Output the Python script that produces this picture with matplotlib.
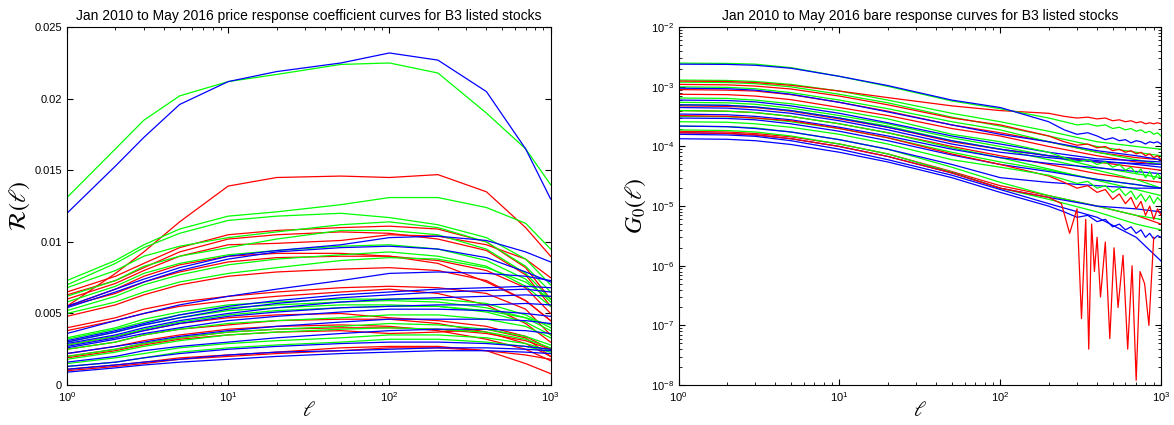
import numpy as np
import matplotlib.pyplot as plt
from matplotlib.ticker import FormatStrFormatter

plt.rc("font", family=["Liberation Sans", "DejaVu Sans"], size=8)
plt.rc("mathtext", fontset="stix")

lags = [1, 2, 3, 5, 10, 20, 50, 100, 200, 400, 700, 1000]

# price response coefficient R(l), values in units of 1e-3
resp_blue = [
    [12.0, 15.3, 17.3, 19.6, 21.2, 21.9, 22.5, 23.2, 22.7, 20.5, 16.5, 13.0],
    [5.5, 6.7, 7.4, 8.2, 9.0, 9.4, 9.8, 10.3, 10.4, 10.1, 9.3, 8.6],
    [5.4, 6.5, 7.2, 8.0, 8.8, 9.3, 9.6, 9.7, 9.5, 8.9, 7.9, 7.2],
    [3.6, 4.5, 5.0, 5.6, 6.2, 6.7, 7.3, 7.8, 7.9, 7.8, 7.6, 7.3],
    [3.1, 3.8, 4.3, 4.9, 5.5, 5.9, 6.3, 6.5, 6.7, 6.8, 6.9, 6.8],
    [3.0, 3.7, 4.2, 4.7, 5.3, 5.7, 6.1, 6.3, 6.5, 6.6, 6.7, 6.5],
    [2.9, 3.5, 4.0, 4.5, 5.0, 5.4, 5.8, 6.0, 6.1, 6.2, 6.3, 6.2],
    [2.7, 3.3, 3.8, 4.3, 4.8, 5.1, 5.4, 5.5, 5.6, 5.6, 5.7, 5.6],
    [2.6, 3.2, 3.6, 4.0, 4.5, 4.8, 5.1, 5.3, 5.3, 5.2, 5.0, 4.8],
    [2.2, 2.7, 3.0, 3.4, 3.8, 4.1, 4.4, 4.6, 4.6, 4.6, 4.5, 4.3],
    [1.6, 2.0, 2.4, 2.7, 3.0, 3.3, 3.6, 3.8, 3.9, 3.9, 3.8, 3.6],
    [1.3, 1.6, 1.9, 2.2, 2.5, 2.7, 2.9, 3.0, 3.0, 2.9, 2.7, 2.5],
    [0.9, 1.2, 1.4, 1.6, 1.8, 2.0, 2.2, 2.3, 2.4, 2.4, 2.3, 2.2],
    [1.1, 1.4, 1.6, 1.8, 2.1, 2.3, 2.4, 2.5, 2.6, 2.6, 2.5, 2.4],
]
resp_green = [
    [13.1, 16.5, 18.5, 20.2, 21.2, 21.7, 22.4, 22.5, 21.8, 19.0, 16.5, 14.0],
    [7.3, 8.7, 9.8, 10.9, 11.8, 12.1, 12.6, 13.1, 13.1, 12.4, 11.3, 9.5],
    [7.0, 8.5, 9.6, 10.6, 11.5, 11.8, 12.0, 11.7, 11.2, 10.3, 8.8, 7.0],
    [6.8, 8.0, 9.0, 9.7, 10.3, 10.7, 11.2, 11.4, 11.0, 10.0, 8.3, 6.5],
    [6.2, 7.3, 8.3, 9.0, 9.6, 10.2, 10.8, 10.8, 10.5, 9.5, 7.8, 6.0],
    [5.8, 6.9, 7.8, 8.5, 9.1, 9.4, 9.7, 9.8, 9.5, 8.7, 7.4, 5.8],
    [5.2, 6.2, 7.0, 7.7, 8.4, 8.8, 9.1, 9.3, 9.0, 8.3, 6.9, 5.5],
    [5.0, 5.8, 6.5, 7.2, 7.8, 8.2, 8.7, 8.9, 8.8, 8.2, 7.2, 6.0],
    [3.3, 4.0, 4.6, 5.1, 5.6, 5.8, 6.0, 6.0, 6.0, 5.7, 4.9, 4.0],
    [3.2, 3.9, 4.4, 4.9, 5.4, 5.6, 5.8, 5.9, 5.8, 5.4, 4.7, 3.8],
    [3.0, 3.7, 4.2, 4.7, 5.2, 5.4, 5.6, 5.6, 5.5, 5.1, 4.4, 3.5],
    [2.8, 3.4, 3.9, 4.4, 4.9, 5.2, 5.4, 5.5, 5.5, 5.2, 4.7, 4.2],
    [2.5, 3.0, 3.5, 3.9, 4.3, 4.5, 4.7, 4.9, 4.9, 4.6, 4.1, 3.3],
    [2.0, 2.5, 2.9, 3.3, 3.7, 3.9, 4.1, 4.3, 4.2, 3.9, 3.4, 2.8],
    [1.8, 2.3, 2.7, 3.1, 3.5, 3.7, 3.9, 4.0, 3.9, 3.7, 3.2, 2.6],
    [1.5, 1.9, 2.2, 2.6, 2.9, 3.1, 3.3, 3.5, 3.5, 3.3, 2.9, 2.4],
    [1.3, 1.6, 1.9, 2.3, 2.6, 2.8, 3.0, 3.2, 3.2, 3.0, 2.7, 2.3],
]
resp_red = [
    [5.5, 7.8, 9.3, 11.4, 13.9, 14.5, 14.6, 14.5, 14.7, 13.5, 11.0, 9.0],
    [6.5, 7.6, 8.5, 9.6, 10.5, 10.8, 11.0, 11.1, 10.9, 10.0, 8.2, 6.0],
    [6.3, 7.3, 8.2, 9.3, 10.2, 10.5, 10.7, 10.6, 10.2, 9.4, 7.7, 5.5],
    [6.0, 7.1, 8.0, 9.0, 9.8, 9.9, 10.1, 10.5, 10.4, 9.8, 8.8, 7.5],
    [5.5, 6.7, 7.6, 8.4, 9.0, 9.2, 9.2, 9.0, 8.7, 8.0, 6.8, 5.0],
    [5.5, 6.4, 7.2, 7.9, 8.6, 8.9, 9.0, 9.0, 8.5, 7.2, 5.9, 4.5],
    [4.8, 5.6, 6.3, 7.0, 7.6, 7.9, 8.1, 8.2, 8.0, 7.3, 5.9, 4.5],
    [4.0, 4.7, 5.3, 5.8, 6.2, 6.5, 6.8, 6.9, 6.8, 6.4, 5.3, 3.5],
    [3.8, 4.5, 5.0, 5.5, 5.9, 6.2, 6.5, 6.7, 6.4, 5.6, 4.3, 3.0],
    [2.8, 3.4, 3.8, 4.3, 4.7, 4.9, 5.0, 4.7, 4.5, 4.1, 3.4, 2.5],
    [2.5, 3.0, 3.5, 3.9, 4.2, 4.5, 4.6, 4.6, 4.3, 3.7, 2.9, 2.0],
    [2.2, 2.7, 3.1, 3.5, 3.9, 4.1, 4.2, 4.1, 3.8, 3.2, 2.5, 1.7],
    [2.0, 2.5, 2.9, 3.3, 3.7, 3.9, 4.0, 4.0, 3.9, 3.6, 3.1, 2.5],
    [1.9, 2.4, 2.8, 3.2, 3.5, 3.7, 3.8, 3.6, 3.7, 3.9, 3.3, 2.0],
    [1.1, 1.4, 1.6, 1.9, 2.1, 2.3, 2.6, 2.7, 2.7, 2.4, 1.5, 0.8],
    [1.0, 1.3, 1.5, 1.8, 2.0, 2.2, 2.4, 2.6, 2.6, 2.4, 2.1, 1.8],
]

# bare response G0(l), values in units of 1e-4
bare_blue = [
    [9.5, 9.3, 8.8, 7.5, 5.5, 3.8, 2.3, 1.6, 1.2, 0.85, 0.7, 0.6],
    [6.0, 5.9, 5.6, 4.8, 3.6, 2.5, 1.5, 1.1, 0.8, 0.62, 0.58, 0.55],
    [5.0, 4.9, 4.6, 4.0, 3.0, 2.1, 1.25, 0.9, 0.7, 0.58, 0.5, 0.45],
    [4.5, 4.4, 4.1, 3.6, 2.7, 1.9, 1.1, 0.8, 0.65, 0.55, 0.52, 0.5],
    [3.5, 3.4, 3.2, 2.8, 2.1, 1.5, 0.9, 0.65, 0.52, 0.44, 0.38, 0.35],
    [3.0, 2.95, 2.8, 2.4, 1.8, 1.25, 0.72, 0.5, 0.38, 0.28, 0.23, 0.2],
    [2.2, 2.15, 2.0, 1.75, 1.3, 0.9, 0.5, 0.3, 0.25, 0.22, 0.2, 0.2],
    [1.7, 1.65, 1.55, 1.35, 1.0, 0.68, 0.36, 0.2, 0.14, 0.1, 0.09, 0.08],
    [1.6, 1.56, 1.48, 1.25, 0.9, 0.6, 0.33, 0.19, 0.11, 0.065, 0.03, 0.012],
]
bare_green = [
    [13, 12.8, 12.3, 11, 8.5, 6.0, 3.6, 2.6, 1.8, 1.2, 1.0, 0.9],
    [12, 11.8, 11.3, 10, 7.5, 5.4, 3.1, 2.2, 1.5, 1.0, 0.8, 0.7],
    [10, 9.8, 9.3, 8.0, 6.0, 4.3, 2.6, 1.9, 1.2, 0.8, 0.6, 0.5],
    [5.5, 5.4, 5.1, 4.4, 3.3, 2.4, 1.4, 1.0, 0.7, 0.45, 0.35, 0.3],
    [5.0, 4.9, 4.6, 4.0, 3.0, 2.2, 1.25, 0.9, 0.6, 0.4, 0.28, 0.2],
    [4.0, 3.9, 3.7, 3.2, 2.4, 1.7, 0.95, 0.65, 0.42, 0.27, 0.19, 0.15],
    [3.2, 3.15, 3.0, 2.6, 2.0, 1.4, 0.8, 0.55, 0.4, 0.28, 0.23, 0.2],
    [2.2, 2.15, 2.05, 1.75, 1.3, 0.9, 0.45, 0.25, 0.15, 0.1, 0.07, 0.06],
    [1.9, 1.85, 1.75, 1.5, 1.1, 0.75, 0.37, 0.2, 0.13, 0.08, 0.05, 0.04],
]
bare_red = [
    [9.0, 8.8, 8.5, 7.4, 5.5, 3.9, 2.3, 1.7, 1.2, 0.8, 0.65, 0.6],
    [7.5, 7.4, 7.0, 6.1, 4.5, 3.3, 2.0, 1.5, 1.0, 0.7, 0.55, 0.5],
    [4.8, 4.7, 4.5, 3.9, 2.9, 2.1, 1.2, 0.9, 0.7, 0.55, 0.45, 0.4],
    [4.0, 3.9, 3.7, 3.2, 2.4, 1.7, 1.0, 0.7, 0.5, 0.35, 0.28, 0.25],
    [1.8, 1.75, 1.65, 1.45, 1.1, 0.75, 0.38, 0.22, 0.15, 0.1, 0.07, 0.05],
]

# stocks whose tail is noisy, sampled densely after l = 200 (units of 1e-4)
noisy_lags = [1, 2, 3, 5, 10, 20, 50, 100, 200, 250, 300, 350, 400, 450, 500,
              550, 600, 650, 700, 750, 800, 850, 900, 950, 1000]
noisy_blue = [
    [24, 23.8, 23, 20.5, 15, 10.5, 6.0, 4.5, 2.6, 1.9, 1.6, 1.7, 1.5, 1.3,
     1.4, 1.25, 1.3, 1.15, 1.25, 1.2, 1.1, 1.2, 1.15, 1.2, 1.1],
    [1.35, 1.32, 1.25, 1.08, 0.8, 0.55, 0.3, 0.17, 0.1, 0.08, 0.065, 0.07,
     0.055, 0.06, 0.045, 0.05, 0.04, 0.045, 0.035, 0.04, 0.03, 0.035, 0.028,
     0.032, 0.03],
]
noisy_green = [
    [25, 24.7, 24, 21, 15, 10.2, 5.8, 4.3, 3.0, 2.6, 2.3, 2.4, 2.2, 2.3, 2.0,
     2.1, 1.9, 2.0, 1.8, 1.9, 1.7, 1.8, 1.6, 1.7, 1.5],
    [6.5, 6.4, 6.0, 5.2, 4.0, 2.9, 1.6, 1.2, 0.8, 0.65, 0.55, 0.6, 0.5, 0.55,
     0.45, 0.5, 0.4, 0.45, 0.35, 0.42, 0.3, 0.38, 0.28, 0.35, 0.3],
    [2.6, 2.55, 2.4, 2.1, 1.6, 1.1, 0.6, 0.45, 0.33, 0.28, 0.24, 0.26, 0.2,
     0.22, 0.17, 0.2, 0.15, 0.18, 0.13, 0.16, 0.12, 0.15, 0.11, 0.14, 0.12],
]
noisy_red = [
    [12.5, 12.3, 11.8, 10.6, 8.5, 6.6, 4.8, 4.0, 3.6, 3.2, 3.0, 3.1, 2.9, 3.0,
     2.7, 2.8, 2.6, 2.7, 2.5, 2.6, 2.4, 2.5, 2.4, 2.5, 2.4],
    [11, 10.8, 10.3, 9.2, 7.0, 5.0, 3.0, 2.3, 1.5, 1.2, 1.05, 1.1, 0.95, 1.0,
     0.85, 0.9, 0.8, 0.85, 0.75, 0.8, 0.7, 0.75, 0.65, 0.7, 0.6],
    [3.3, 3.2, 3.0, 2.7, 2.0, 1.4, 0.75, 0.5, 0.32, 0.25, 0.2, 0.22, 0.17,
     0.19, 0.13, 0.16, 0.11, 0.14, 0.09, 0.12, 0.07, 0.1, 0.06, 0.09, 0.07],
]

# the red stock that collapses in the tail (units of 1e-4)
spiky_lags = [1, 2, 3, 5, 10, 20, 50, 100, 200, 240, 270, 300, 320, 340, 355,
              370, 385, 400, 420, 450, 480, 510, 540, 580, 620, 660, 700, 740,
              790, 840, 900]
spiky_red = [1.7, 1.66, 1.57, 1.35, 1.0, 0.68, 0.36, 0.2, 0.14, 0.11, 0.035,
             0.09, 0.0013, 0.06, 0.0004, 0.05, 0.008, 0.03, 0.003, 0.025,
             0.0006, 0.02, 0.002, 0.015, 0.0004, 0.01, 0.00012, 0.008, 0.005,
             0.001, 0.03]

colors = {"b": "#0000ff", "g": "#00ff00", "r": "#ff0000"}


def matlab_axes(ax):
    ax.tick_params(which="both", direction="in", top=True, right=True)
    ax.tick_params(which="major", length=4)
    ax.tick_params(which="minor", length=2)
    for s in ax.spines.values():
        s.set_linewidth(0.8)


fig = plt.figure(figsize=(11.74, 4.25), dpi=100)
ax1 = fig.add_axes([0.057, 0.094, 0.412, 0.842])
ax2 = fig.add_axes([0.578, 0.094, 0.411, 0.842])

for key, group in (("r", resp_red), ("g", resp_green), ("b", resp_blue)):
    for curve in group:
        ax1.semilogx(lags, np.array(curve) * 1e-3, color=colors[key], lw=0.9)

ax1.set_xlim(1, 1000)
ax1.set_ylim(0, 0.025)
ax1.set_yticks([0, 0.005, 0.01, 0.015, 0.02, 0.025])
ax1.yaxis.set_major_formatter(FormatStrFormatter("%g"))
ax1.set_xlabel(r"$\ell$", fontsize=15, labelpad=-2)
ax1.set_ylabel(r"$\mathcal{R}(\ell)$", fontsize=17, labelpad=2)
ax1.set_title("Jan 2010 to May 2016 price response coefficient curves for B3 listed stocks",
              fontsize=10, pad=5)
matlab_axes(ax1)

for key, group in (("r", bare_red), ("g", bare_green), ("b", bare_blue)):
    for curve in group:
        ax2.loglog(lags, np.array(curve) * 1e-4, color=colors[key], lw=0.9)
for key, group in (("r", noisy_red), ("g", noisy_green), ("b", noisy_blue)):
    for curve in group:
        ax2.loglog(noisy_lags, np.array(curve) * 1e-4, color=colors[key], lw=0.9)
ax2.loglog(spiky_lags, np.array(spiky_red) * 1e-4, color=colors["r"], lw=0.9)

ax2.set_xlim(1, 1000)
ax2.set_ylim(1e-8, 1e-2)
ax2.set_xlabel(r"$\ell$", fontsize=15, labelpad=-2)
ax2.set_ylabel(r"$G_0(\ell)$", fontsize=17, labelpad=2)
ax2.set_title("Jan 2010 to May 2016 bare response curves for B3 listed stocks",
              fontsize=10, pad=5)
matlab_axes(ax2)

fig.savefig("out.png", dpi=100)
